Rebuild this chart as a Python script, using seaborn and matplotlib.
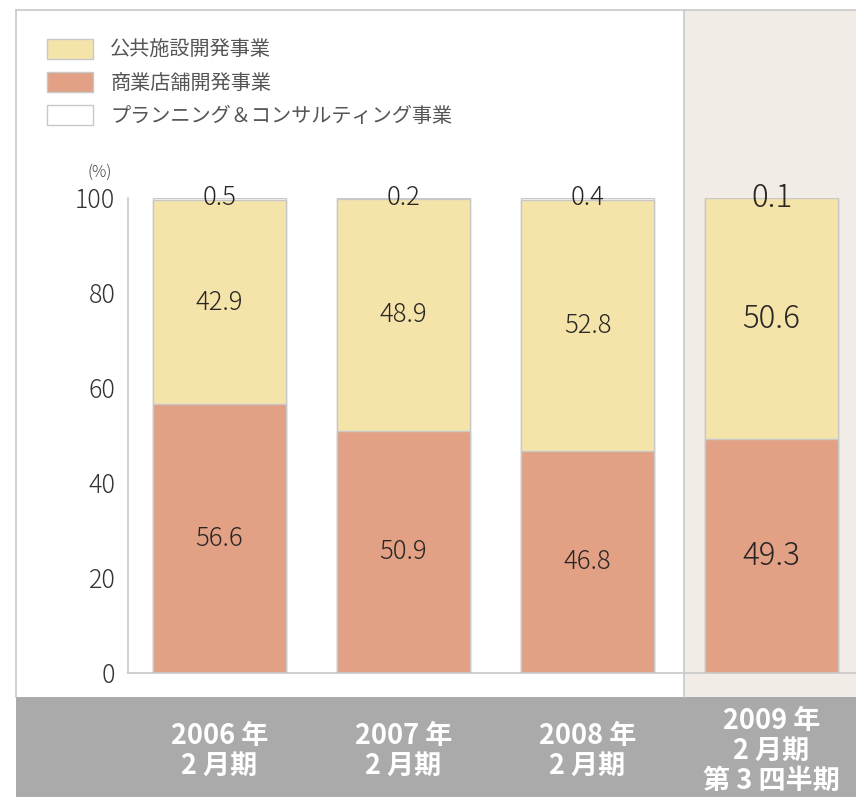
import matplotlib
matplotlib.use("Agg")
import matplotlib.pyplot as plt
from matplotlib.patches import Patch, Rectangle
from matplotlib.lines import Line2D
import pandas as pd
import seaborn as sns

# data (%)
periods = ["2006 年\n2 月期", "2007 年\n2 月期", "2008 年\n2 月期", "2009 年\n2 月期\n第 3 四半期"]
shops = [56.6, 50.9, 46.8, 49.3]        # 商業店舗開発事業
public = [42.9, 48.9, 52.8, 50.6]       # 公共施設開発事業
planning = [0.5, 0.2, 0.4, 0.1]         # プランニング＆コンサルティング事業
series_names = ["公共施設開発事業", "商業店舗開発事業", "プランニング＆コンサルティング事業"]
yticks = [0, 20, 40, 60, 80, 100]

df = pd.DataFrame({"period": periods, "shops": shops, "public": public, "planning": planning})
df["cum_public"] = df["shops"] + df["public"]
df["cum_all"] = df["cum_public"] + df["planning"]

# colours
yellow = "#f5e4aa"
salmon = "#e2a185"
edge = "#c8c8c8"
beige = "#f1ece5"
band = "#a9aaa9"
txt = "#2a2624"
label_sizes = [18.5, 18.5, 18.5, 22.5]

sns.set_style("white")
plt.rcParams["font.family"] = ["Noto Sans CJK JP", "DejaVu Sans"]

W, H = 856, 797
fig = plt.figure(figsize=(W / 100, H / 100), dpi=100)


def fx(px):
    return px / W


def fy(py):
    return 1 - py / H


# background pieces (figure coords)
fig.patches.append(Rectangle((fx(684), fy(697)), fx(856) - fx(684), fy(10) - fy(697),
                             transform=fig.transFigure, facecolor=beige, edgecolor="none", zorder=-2))
fig.patches.append(Rectangle((fx(16), 0), 1 - fx(16), fy(697),
                             transform=fig.transFigure, facecolor=band, edgecolor="none", zorder=-2))
for xs, ys in [([16, 856], [10, 10]), ([16, 16], [10, 697]), ([684, 684], [10, 697])]:
    fig.add_artist(Line2D([fx(v) for v in xs], [fy(v) for v in ys], color=edge, lw=1.2, zorder=-1))

ax = fig.add_axes([fx(128), fy(673), fx(856) - fx(128), fy(198) - fy(673)])
ax.set_facecolor("none")

# stacked bars: draw totals first, then lower parts on top
for col, color in [("cum_all", "white"), ("cum_public", yellow), ("shops", salmon)]:
    sns.barplot(data=df, x="period", y=col, color=color, saturation=1, width=0.723,
                edgecolor=edge, linewidth=1.0, errorbar=None, ax=ax)

for i in range(len(periods)):
    fs = label_sizes[i]
    ax.text(i, shops[i] / 2, f"{shops[i]}", ha="center", va="center", fontsize=fs,
            color=txt, fontweight="light")
    ax.text(i, shops[i] + public[i] / 2, f"{public[i]}", ha="center", va="center", fontsize=fs,
            color=txt, fontweight="light")
    ax.text(i, df["cum_all"][i], f"{planning[i]}", ha="center", va="center", fontsize=fs,
            color=txt, fontweight="light")

ax.set_xlim(-0.497, 3.459)
ax.set_ylim(0, 100)
ax.set_yticks(yticks)
ax.set_xlabel("")
ax.set_ylabel("")
sns.despine(ax=ax)
for s in ["left", "bottom"]:
    ax.spines[s].set_color(edge)
    ax.spines[s].set_linewidth(1.2)
ax.tick_params(axis="y", direction="in", length=12, width=1.2, color=edge,
               labelsize=18, labelcolor="#333333", pad=9)
ax.tick_params(axis="x", length=0, pad=56)
for t in ax.get_xticklabels():
    t.set_va("center")
    t.set_color("white")
    t.set_fontweight("bold")
    t.set_fontsize(19.5)
    t.set_linespacing(1.08)
for t in ax.get_yticklabels():
    t.set_fontweight("light")

fig.text(fx(100), fy(172), "(%)", ha="center", va="center", fontsize=11.5, color="#444444",
         fontweight="light")

handles = [Patch(facecolor=yellow, edgecolor=edge),
           Patch(facecolor=salmon, edgecolor=edge),
           Patch(facecolor="white", edgecolor=edge)]
fig.legend(handles, series_names, loc="upper left", bbox_to_anchor=(fx(47), fy(39)),
           frameon=False, fontsize=14.5, labelcolor="#555555", handlelength=2.3,
           handleheight=1.15, handletextpad=0.85, labelspacing=0.55, borderpad=0, borderaxespad=0)

fig.savefig("out.png", dpi=100)
